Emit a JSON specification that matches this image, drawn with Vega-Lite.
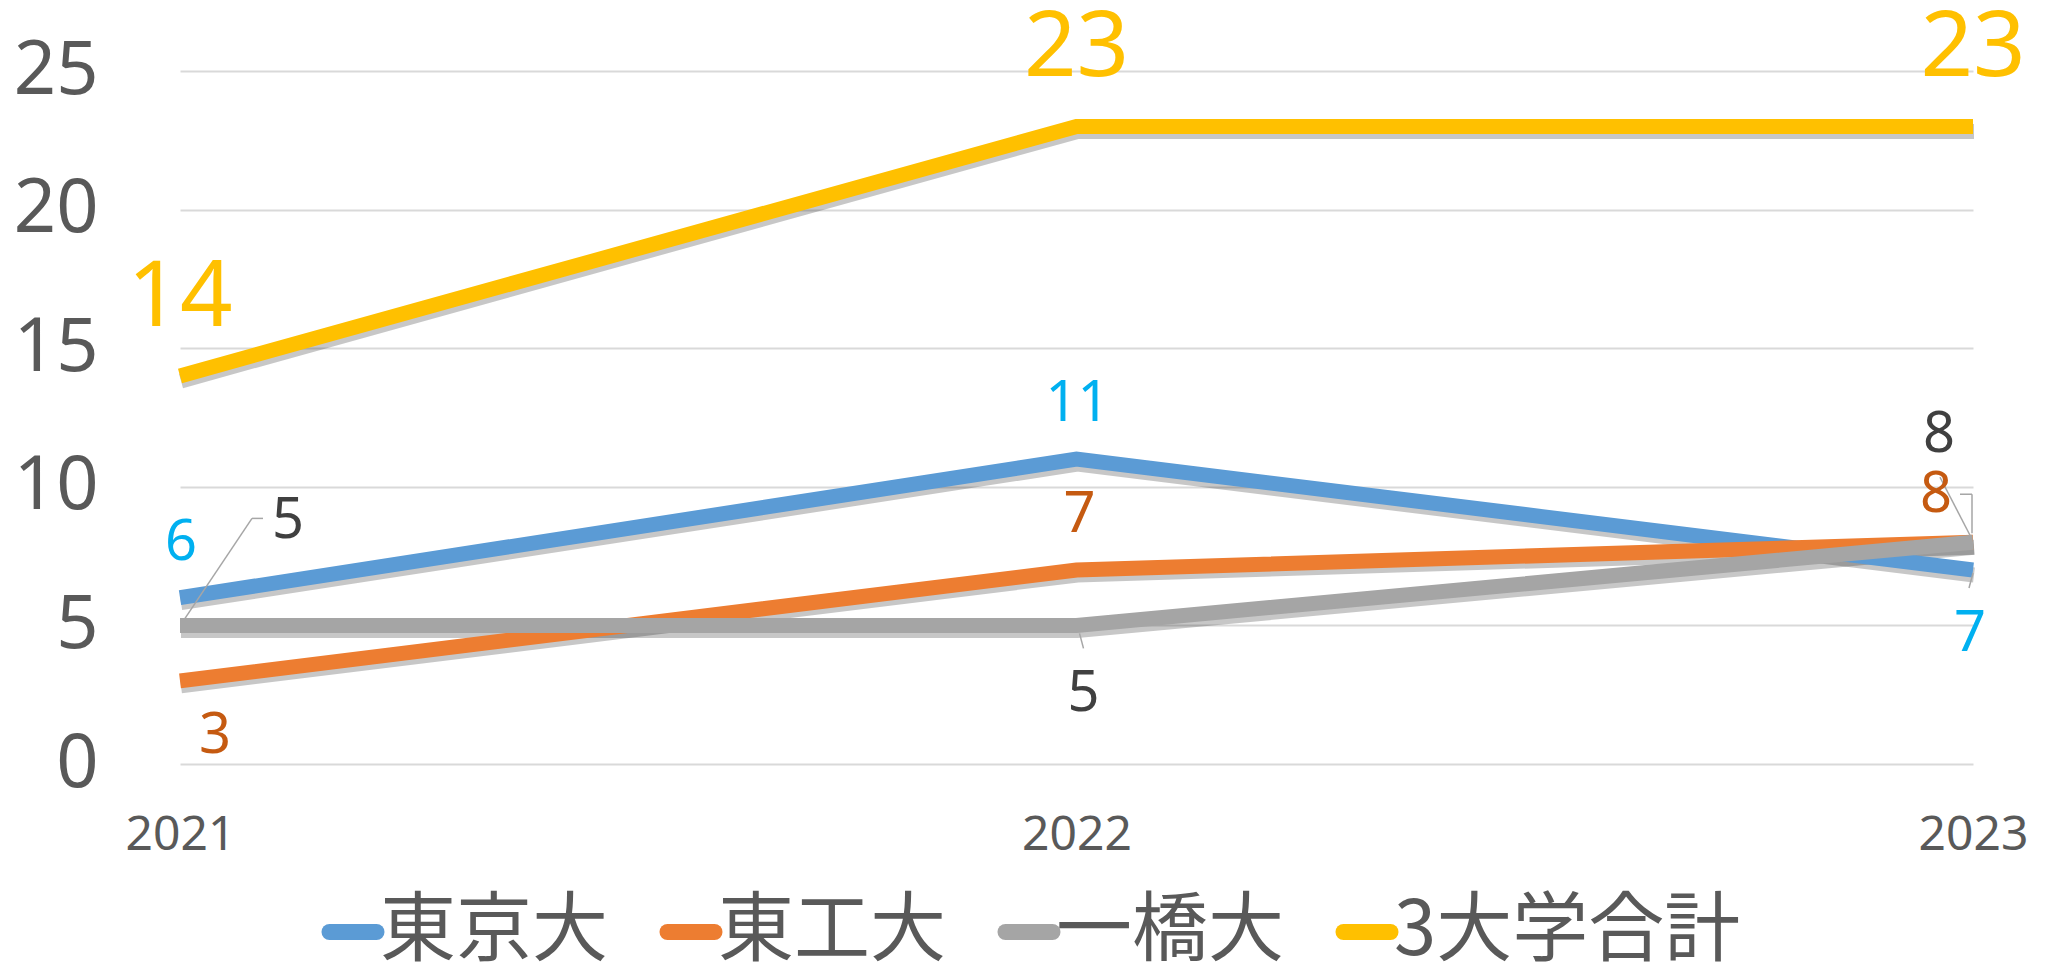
{
"$schema":"https://vega.github.io/schema/vega-lite/v6.json",
"width":1793,"height":693,
"autosize":{"type":"none"},
"padding":{"left":180,"top":71,"right":76,"bottom":199},
"background":"white",
"config":{"view":{"stroke":null}},
"data":{"values":[
{"year":"2021","series":"東京大","value":6},
{"year":"2022","series":"東京大","value":11},
{"year":"2023","series":"東京大","value":7},
{"year":"2021","series":"東工大","value":3},
{"year":"2022","series":"東工大","value":7},
{"year":"2023","series":"東工大","value":8},
{"year":"2021","series":"一橋大","value":5},
{"year":"2022","series":"一橋大","value":5},
{"year":"2023","series":"一橋大","value":8},
{"year":"2021","series":"3大学合計","value":14},
{"year":"2022","series":"3大学合計","value":23},
{"year":"2023","series":"3大学合計","value":23}
]},
"encoding":{
"x":{"field":"year","type":"ordinal","scale":{"type":"point","padding":0},"axis":{"title":null,"labelAngle":0,"labelFontSize":48,"labelFont":"Noto Sans","labelColor":"#595959","ticks":false,"domain":false,"grid":false,"labelPadding":47}},
"y":{"field":"value","type":"quantitative","scale":{"domain":[0,25],"nice":false},"axis":{"title":null,"values":[0,5,10,15,20,25],"labelFontSize":74,"labelFont":"Noto Sans","labelColor":"#595959","ticks":false,"domain":false,"grid":true,"gridColor":"#D9D9D9","gridWidth":2,"labelPadding":82}}
},
"layer":[
{"mark":{"type":"line","strokeWidth":15,"color":"#000000","opacity":0.22,"yOffset":5,"xOffset":1},"encoding":{"detail":{"field":"series"}}},
{"mark":{"type":"line","strokeWidth":15},"encoding":{"color":{"field":"series","type":"nominal","scale":{"domain":["東京大","東工大","一橋大","3大学合計"],"range":["#5B9BD5","#ED7D31","#A5A5A5","#FFC000"]},"legend":{"orient":"none","legendX":135,"legendY":823,"direction":"horizontal","columns":4,"padding":0,"title":null,"symbolType":"stroke","symbolSize":2209,"symbolStrokeWidth":16,"labelFont":"Noto Sans CJK JP","labelFontSize":76,"labelColor":"#595959","labelOffset":-11,"columnPadding":27,"labelLimit":600,"symbolOpacity":1,"encode":{"symbols":{"update":{"strokeCap":{"value":"round"}}}}}}}},
{"transform":[{"filter":"datum.series=='一橋大' && datum.year=='2021'"}],"mark":{"type":"rule","color":"#A6A6A6","strokeWidth":1.5,"xOffset":5,"yOffset":-7,"x2Offset":72,"y2Offset":-107},"encoding":{"x2":{"field":"year"},"y2":{"field":"value"}}},
{"transform":[{"filter":"datum.series=='一橋大' && datum.year=='2021'"}],"mark":{"type":"rule","color":"#A6A6A6","strokeWidth":1.5,"xOffset":72,"yOffset":-107,"x2Offset":83,"y2Offset":-107},"encoding":{"x2":{"field":"year"},"y2":{"field":"value"}}},
{"transform":[{"filter":"datum.series=='一橋大' && datum.year=='2022'"}],"mark":{"type":"rule","color":"#A6A6A6","strokeWidth":1.5,"xOffset":3,"yOffset":8,"x2Offset":7,"y2Offset":23},"encoding":{"x2":{"field":"year"},"y2":{"field":"value"}}},
{"transform":[{"filter":"datum.series=='一橋大' && datum.year=='2023'"}],"mark":{"type":"rule","color":"#A6A6A6","strokeWidth":1.5,"xOffset":-33,"yOffset":-65,"x2Offset":-3,"y2Offset":-7},"encoding":{"x2":{"field":"year"},"y2":{"field":"value"}}},
{"transform":[{"filter":"datum.series=='東工大' && datum.year=='2023'"}],"mark":{"type":"rule","color":"#A6A6A6","strokeWidth":1.5,"xOffset":-13,"yOffset":-48,"x2Offset":-1,"y2Offset":-48},"encoding":{"x2":{"field":"year"},"y2":{"field":"value"}}},
{"transform":[{"filter":"datum.series=='東工大' && datum.year=='2023'"}],"mark":{"type":"rule","color":"#A6A6A6","strokeWidth":1.5,"xOffset":-1,"yOffset":-48,"x2Offset":-1,"y2Offset":-9},"encoding":{"x2":{"field":"year"},"y2":{"field":"value"}}},
{"transform":[{"filter":"datum.series=='東京大' && datum.year=='2023'"}],"mark":{"type":"rule","color":"#A6A6A6","strokeWidth":1.5,"xOffset":0,"yOffset":3,"x2Offset":-4,"y2Offset":18},"encoding":{"x2":{"field":"year"},"y2":{"field":"value"}}},
{"transform":[{"filter":"datum.series=='東京大' && datum.year!='2023'"}],"mark":{"type":"text","font":"Noto Sans","fontSize":56,"color":"#00B0F0","baseline":"middle","align":"center","dx":1,"dy":-55},"encoding":{"text":{"field":"value"}}},
{"transform":[{"filter":"datum.series=='東京大' && datum.year=='2023'"}],"mark":{"type":"text","font":"Noto Sans","fontSize":56,"color":"#00B0F0","baseline":"middle","align":"center","dx":-3,"dy":64},"encoding":{"text":{"field":"value"}}},
{"transform":[{"filter":"datum.series=='東工大' && datum.year=='2021'"}],"mark":{"type":"text","font":"Noto Sans","fontSize":56,"color":"#C55A11","baseline":"middle","align":"center","dx":35,"dy":55},"encoding":{"text":{"field":"value"}}},
{"transform":[{"filter":"datum.series=='東工大' && datum.year=='2022'"}],"mark":{"type":"text","font":"Noto Sans","fontSize":56,"color":"#C55A11","baseline":"middle","align":"center","dx":3,"dy":-55},"encoding":{"text":{"field":"value"}}},
{"transform":[{"filter":"datum.series=='東工大' && datum.year=='2023'"}],"mark":{"type":"text","font":"Noto Sans","fontSize":56,"color":"#C55A11","baseline":"middle","align":"center","dx":-37,"dy":-47},"encoding":{"text":{"field":"value"}}},
{"transform":[{"filter":"datum.series=='一橋大' && datum.year=='2021'"}],"mark":{"type":"text","font":"Noto Sans","fontSize":56,"color":"#404040","baseline":"middle","align":"center","dx":108,"dy":-104},"encoding":{"text":{"field":"value"}}},
{"transform":[{"filter":"datum.series=='一橋大' && datum.year=='2022'"}],"mark":{"type":"text","font":"Noto Sans","fontSize":56,"color":"#404040","baseline":"middle","align":"center","dx":7,"dy":69},"encoding":{"text":{"field":"value"}}},
{"transform":[{"filter":"datum.series=='一橋大' && datum.year=='2023'"}],"mark":{"type":"text","font":"Noto Sans","fontSize":56,"color":"#404040","baseline":"middle","align":"center","dx":-34,"dy":-107},"encoding":{"text":{"field":"value"}}},
{"transform":[{"filter":"datum.series=='3大学合計'"}],"mark":{"type":"text","font":"Noto Sans","fontSize":92,"color":"#FFC000","baseline":"middle","align":"center","dx":0,"dy":-78},"encoding":{"text":{"field":"value"}}}
]
}
